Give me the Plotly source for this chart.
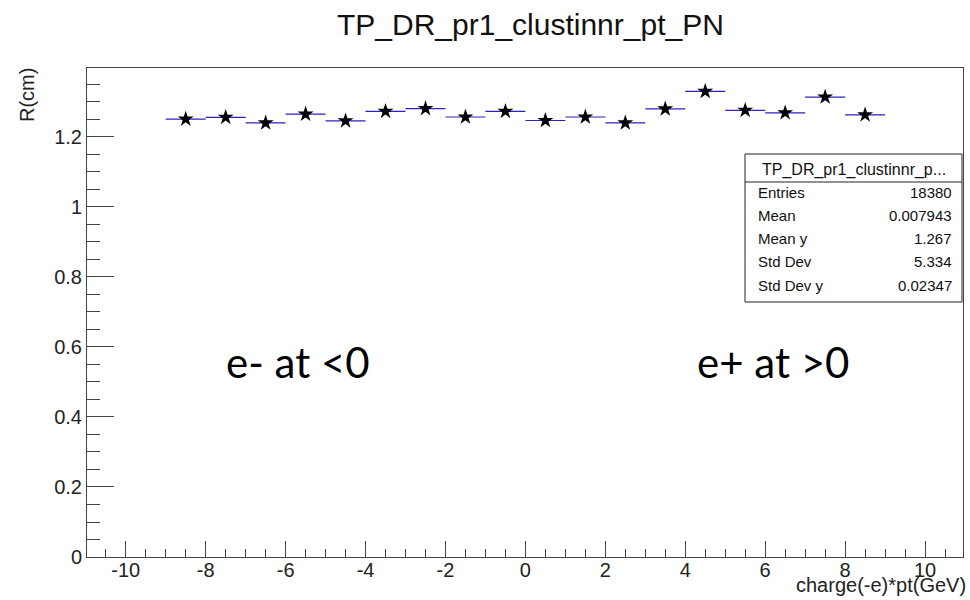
import plotly.graph_objects as go

# ---- data ----
bin_centers = [-8.5, -7.5, -6.5, -5.5, -4.5, -3.5, -2.5, -1.5, -0.5,
               0.5, 1.5, 2.5, 3.5, 4.5, 5.5, 6.5, 7.5, 8.5]
r_values = [1.251, 1.256, 1.240, 1.265, 1.246, 1.273, 1.281, 1.257, 1.273,
            1.247, 1.257, 1.240, 1.280, 1.330, 1.276, 1.269, 1.314, 1.263]
bin_half_width = [0.5] * len(bin_centers)

x_tick_vals = [-10, -8, -6, -4, -2, 0, 2, 4, 6, 8, 10]
x_tick_text = ["-10", "-8", "-6", "-4", "-2", "0", "2", "4", "6", "8", "10"]
y_tick_vals = [0, 0.2, 0.4, 0.6, 0.8, 1.0, 1.2]
y_tick_text = ["0", "0.2", "0.4", "0.6", "0.8", "1", "1.2"]

title_text = "TP_DR_pr1_clustinnr_pt_PN"
x_title = "charge(-e)*pt(GeV)"
y_title = "R(cm)"
stats_header = "TP_DR_pr1_clustinnr_p..."
stats_labels = ["Entries", "Mean", "Mean y", "Std Dev", "Std Dev y"]
stats_values = ["18380", "0.007943", "1.267", "5.334", "0.02347"]
notes = ["e- at <0", "e+ at >0"]
note_x = [-5.7, 6.2]
note_y = [0.557, 0.557]

ROOT_FONT = "Liberation Sans, Arial, sans-serif"

fig = go.Figure()
fig.add_trace(go.Scatter(
    x=bin_centers, y=r_values, mode="markers",
    marker=dict(symbol="star", size=12, color="black"),
    error_x=dict(type="data", array=bin_half_width, width=0,
                 color="#2a22c0", thickness=1.2),
    showlegend=False, hoverinfo="x+y",
))

W, H = 970, 600
L, R, T, B = 87, 7, 68, 43
pw, ph = W - L - R, H - T - B

def px(x):
    return (x - L) / pw

def py(y):
    return (H - B - y) / ph

annotations = []
shapes = []

# title
annotations.append(dict(text=title_text, x=px(530), y=py(25), xref="paper", yref="paper",
                        xanchor="center", yanchor="middle", showarrow=False,
                        font=dict(family=ROOT_FONT, size=30, color="#111")))
# axis titles
annotations.append(dict(text=x_title, x=px(968), y=py(585), xref="paper", yref="paper",
                        xanchor="right", yanchor="middle", showarrow=False,
                        font=dict(family=ROOT_FONT, size=20, color="#222")))
annotations.append(dict(text=y_title, x=px(27), y=py(66), xref="paper", yref="paper",
                        xanchor="center", yanchor="top", textangle=-90, showarrow=False,
                        font=dict(family=ROOT_FONT, size=20, color="#222")))
# notes
for t, nx, ny in zip(notes, note_x, note_y):
    annotations.append(dict(text=t, x=nx, y=ny, xref="x", yref="y",
                            xanchor="center", yanchor="middle", showarrow=False,
                            font=dict(family="Lato, Open Sans, sans-serif", size=42, color="black")))

# stats box
bx0, bx1, by0, by1 = 745, 962, 154, 302
shapes.append(dict(type="rect", xref="paper", yref="paper",
                   x0=px(bx0), x1=px(bx1), y0=py(by1), y1=py(by0),
                   line=dict(color="#222", width=1), fillcolor="white", layer="above"))
shapes.append(dict(type="line", xref="paper", yref="paper",
                   x0=px(bx0), x1=px(bx1), y0=py(182), y1=py(182),
                   line=dict(color="#222", width=1), layer="above"))
annotations.append(dict(text=stats_header, x=px((bx0 + bx1) / 2), y=py(170), xref="paper", yref="paper",
                        xanchor="center", yanchor="middle", showarrow=False,
                        font=dict(family=ROOT_FONT, size=16, color="#111")))
for i, (lab, val) in enumerate(zip(stats_labels, stats_values)):
    yy = 192 + 23.3 * i
    annotations.append(dict(text=lab, x=px(756), y=py(yy), xref="paper", yref="paper",
                            xanchor="left", yanchor="middle", showarrow=False,
                            font=dict(family=ROOT_FONT, size=15, color="#111")))
    annotations.append(dict(text=val, x=px(954), y=py(yy), xref="paper", yref="paper",
                            xanchor="right", yanchor="middle", showarrow=False,
                            font=dict(family=ROOT_FONT, size=15, color="#111")))

fig.update_layout(
    width=W, height=H,
    margin=dict(l=L, r=R, t=T, b=B),
    paper_bgcolor="white", plot_bgcolor="white",
    annotations=annotations, shapes=shapes,
    xaxis=dict(range=[-10.97, 10.95], tickmode="array", tickvals=x_tick_vals, ticktext=x_tick_text,
               ticks="inside", ticklen=16, tickcolor="#444", tickwidth=1,
               ticklabelstandoff=-5,
               minor=dict(tickmode="linear", tick0=-10, dtick=0.5, ticks="inside", ticklen=8, tickcolor="#444"),
               showline=True, linecolor="#444", linewidth=1, mirror=True,
               showgrid=False, zeroline=False,
               tickfont=dict(family=ROOT_FONT, size=20, color="#222")),
    yaxis=dict(range=[0, 1.397], tickmode="array", tickvals=y_tick_vals, ticktext=y_tick_text,
               ticks="inside", ticklen=27, tickcolor="#444", tickwidth=1,
               minor=dict(tickmode="linear", tick0=0, dtick=0.05, ticks="inside", ticklen=13, tickcolor="#444"),
               showline=True, linecolor="#444", linewidth=1, mirror=True,
               showgrid=False, zeroline=False,
               tickfont=dict(family=ROOT_FONT, size=20, color="#222")),
)

fig.write_html("out.html", config={"displayModeBar": False},
               post_script="document.body.style.margin='0';document.body.style.padding='0';")
